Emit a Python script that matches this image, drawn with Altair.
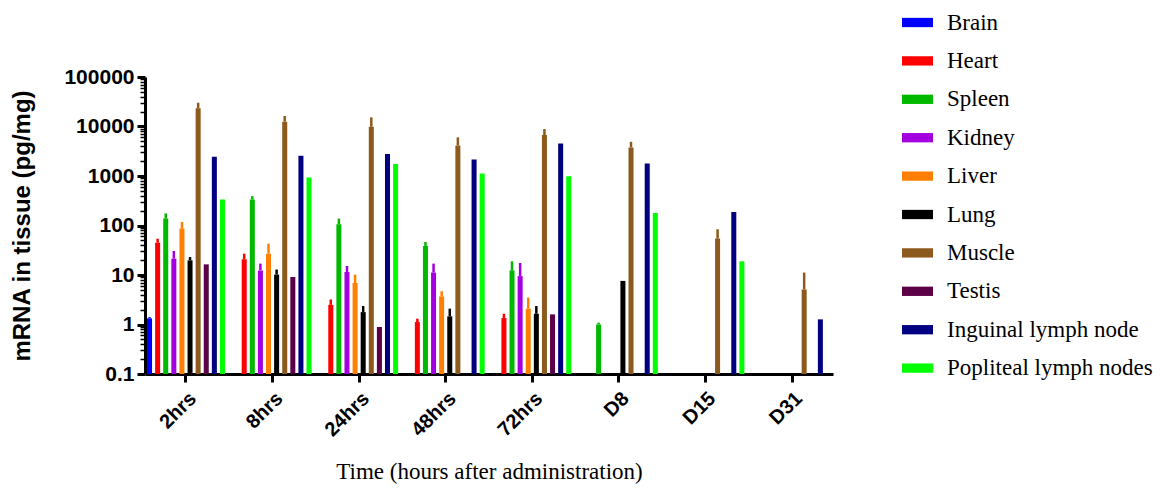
import altair as alt
import pandas as pd

times = ["2hrs", "8hrs", "24hrs", "48hrs", "72hrs", "D8", "D15", "D31"]
organs = ["Brain", "Heart", "Spleen", "Kidney", "Liver", "Lung", "Muscle",
          "Testis", "Inguinal lymph node", "Popliteal lymph nodes"]
colors = ["#0000FF", "#FF0000", "#00B800", "#A300E0", "#FF8000", "#000000",
          "#8C5A1C", "#5C0048", "#000080", "#00FF00"]

# mean values per organ across timepoints (None = not detected)
brain     = [1.33, None, None, None, None, None, None, None]
heart     = [45, 20.8, 2.5, 1.12, 1.35, None, None, None]
spleen    = [138, 335, 106, 38.6, 12.4, 1.0, None, None]
kidney    = [21.4, 12.4, 11.5, 11.2, 9.5, None, None, None]
liver     = [87, 27, 6.9, 3.7, 2.09, None, None, None]
lung      = [19.8, 10.2, 1.78, 1.46, 1.65, 7.6, None, None]
muscle    = [23300, 12500, 9870, 4150, 6700, 3780, 54.5, 5.1]
testis    = [16.4, 9.1, 0.89, None, 1.6, None, None, None]
inguinal  = [2440, 2560, 2770, 2160, 4550, 1795, 188, 1.27]
popliteal = [335, 934, 1740, 1125, 993, 179, 18.9, None]

# upper ends of error bars (mean + SD)
brain_up     = [1.41, None, None, None, None, None, None, None]
heart_up     = [54, 27, 3.2, 1.31, 1.65, None, None, None]
spleen_up    = [175, 391, 138, 46.5, 18.9, 1.09, None, None]
kidney_up    = [30.5, 17, 15.2, 17, 17.5, None, None, None]
liver_up     = [118, 43, 10.2, 4.7, 3.5, None, None, None]
lung_up      = [23, 12.9, 2.36, 2.09, 2.36, None, None, None]
muscle_up    = [30200, 16300, 15300, 6030, 8870, 4910, 84, 11.2]
testis_up    = [None, None, None, None, None, None, None, None]
inguinal_up  = [None, None, None, None, None, None, None, None]
popliteal_up = [None, None, None, None, None, None, None, None]

vals = [brain, heart, spleen, kidney, liver, lung, muscle, testis, inguinal, popliteal]
ups = [brain_up, heart_up, spleen_up, kidney_up, liver_up, lung_up, muscle_up,
       testis_up, inguinal_up, popliteal_up]

rows = []
for org, vs, us in zip(organs, vals, ups):
    for t, v, u in zip(times, vs, us):
        if v is not None:
            rows.append({"time": t, "organ": org, "value": v, "upper": u})
df = pd.DataFrame(rows)

tick_vals = []
for d in [0.1, 1, 10, 100, 1000, 10000]:
    for m in range(1, 10):
        tick_vals.append(round(d * m, 6))
tick_vals.append(100000)

is_major = "abs(log(datum.value)/LN10 - round(log(datum.value)/LN10)) < 0.001"

x_enc = alt.X(
    "time:N", sort=times,
    scale=alt.Scale(domain=times, paddingInner=0.064, paddingOuter=0.0055),
    axis=alt.Axis(
        title="Time (hours after administration)",
        labelAngle=-45, labelFont="Liberation Sans", labelFontWeight="bold",
        labelFontSize=20, labelColor="black", labelPadding=6,
        domainColor="black", domainWidth=3, tickColor="black", tickWidth=3,
        tickSize=8, titleFont="Liberation Serif", titleFontWeight="normal",
        titleFontSize=23, titleColor="black", titleY=104,
        titleBaseline="alphabetic", titleAlign="center",
    ),
)
xo_enc = alt.XOffset(
    "organ:N", sort=organs,
    scale=alt.Scale(domain=organs, paddingInner=0.38, paddingOuter=0.19),
)
y_scale = alt.Scale(type="log", domain=[0.1, 100000])
y_axis = alt.Axis(
    title="mRNA in tissue (pg/mg)", values=tick_vals,
    labelExpr="(abs(log(datum.value)/LN10 - round(log(datum.value)/LN10)) < 0.001) ? format(datum.value, '~g') : ''",
    labelFont="Liberation Sans", labelFontWeight="bold", labelFontSize=21,
    labelColor="black", labelPadding=3, labelOverlap=False,
    domainColor="black", domainWidth=3, tickColor="black",
    tickWidth={"condition": {"test": is_major, "value": 3}, "value": 1.5},
    tickSize={"condition": {"test": is_major, "value": 8}, "value": 5},
    grid=False,
    titleFont="Liberation Sans", titleFontWeight="bold", titleFontSize=24,
    titleColor="black", titleX=-123, titleY=148.5, titleAngle=-90,
    titleAlign="center", titleBaseline="middle",
)
color_scale = alt.Scale(domain=organs, range=colors)
color_enc = alt.Color(
    "organ:N", sort=organs, scale=color_scale,
    legend=alt.Legend(
        title=None, orient="none", legendX=757, legendY=-70, padding=0,
        symbolType="M-1,-0.3L1,-0.3L1,0.3L-1,0.3Z", symbolSize=961,
        symbolStrokeWidth=0, labelFont="Liberation Serif", labelFontSize=23,
        labelColor="black", labelOffset=14, rowPadding=10.4, labelLimit=400,
    ),
)

base = alt.Chart(df).encode(x=x_enc, xOffset=xo_enc)

bars = base.mark_bar().encode(
    y=alt.Y("value:Q", scale=y_scale, axis=y_axis, stack=None),
    y2=alt.Y2Datum(0.1),
    color=color_enc,
)
errs = base.transform_filter("datum.upper != null").mark_rule(strokeWidth=2.5).encode(
    y=alt.Y("value:Q", scale=y_scale),
    y2="upper:Q",
    color=alt.Color("organ:N", sort=organs, scale=color_scale, legend=None),
)

chart = alt.layer(bars, errs).properties(
    width=688, height=297,
    autosize=alt.AutoSizeParams(type="none"),
    padding={"left": 137, "top": 69, "right": 322, "bottom": 110},
).configure(background="white").configure_view(strokeWidth=0, stroke="transparent")

chart.save("out.html", embed_options={"renderer": "svg", "actions": False})
